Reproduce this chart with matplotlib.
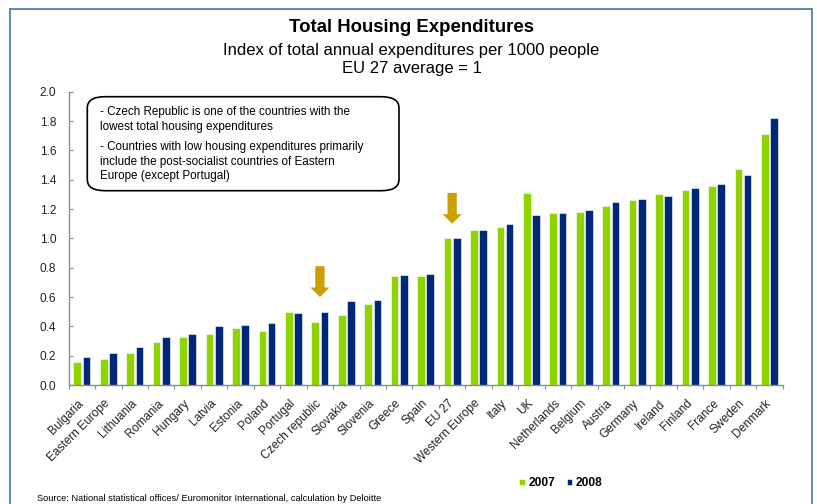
"""Total housing expenditures index, 2007 vs 2008, EU 27 average = 1."""
import matplotlib
matplotlib.use("Agg")
import matplotlib.pyplot as plt
import numpy as np
from matplotlib.patches import FancyBboxPatch, FancyArrow
from matplotlib.lines import Line2D
from matplotlib.ticker import MultipleLocator, FixedLocator

plt.rcParams["font.family"] = ["Liberation Sans", "DejaVu Sans"]

GREEN = "#8FD400"
NAVY = "#00287A"
GOLD = "#C9A000"
AXIS = "#8C8C8C"
FRAME = "#4F7DBA"

countries = ["Bulgaria", "Eastern Europe", "Lithuania", "Romania", "Hungary",
             "Latvia", "Estonia", "Poland", "Portugal", "Czech republic",
             "Slovakia", "Slovenia", "Greece", "Spain", "EU 27",
             "Western Europe", "Italy", "UK", "Netherlands", "Belgium",
             "Austria", "Germany", "Ireland", "Finland", "France", "Sweden",
             "Denmark"]
v2007 = [0.16, 0.18, 0.22, 0.29, 0.33, 0.35, 0.39, 0.37, 0.50, 0.43,
         0.48, 0.55, 0.74, 0.74, 1.00, 1.06, 1.08, 1.31, 1.17, 1.18,
         1.22, 1.26, 1.30, 1.33, 1.36, 1.47, 1.71]
v2008 = [0.19, 0.22, 0.26, 0.33, 0.35, 0.40, 0.41, 0.42, 0.49, 0.50,
         0.57, 0.58, 0.75, 0.76, 1.00, 1.06, 1.10, 1.16, 1.17, 1.19,
         1.25, 1.27, 1.29, 1.34, 1.37, 1.43, 1.82]
highlight = ["Czech republic", "EU 27"]

note_lines = [
    "- Czech Republic is one of the countries with the\nlowest total housing expenditures",
    "- Countries with low housing expenditures primarily\ninclude the post-socialist countries of Eastern\nEurope (except Portugal)",
]

W, H = 817, 504
fig = plt.figure(figsize=(W / 100, H / 100), dpi=100)
ax = fig.add_axes([68.7 / W, 1 - 385 / H, (782.7 - 68.7) / W, (385 - 91.7) / H])

x = np.arange(len(countries))
bw = 0.29
ax.bar(x - 0.175, v2007, bw, color=GREEN, edgecolor="white", linewidth=0.4,
       label="2007", zorder=2)
ax.bar(x + 0.175, v2008, bw, color=NAVY, edgecolor="white", linewidth=0.4,
       label="2008", zorder=2)

ax.set_xlim(-0.5, len(countries) - 0.5)
ax.set_ylim(0, 2.0)
ax.yaxis.set_major_locator(MultipleLocator(0.2))
ax.yaxis.set_major_formatter(lambda v, _: f"{v:.1f}")

for s in ("top", "right"):
    ax.spines[s].set_visible(False)
for s in ("left", "bottom"):
    ax.spines[s].set_color(AXIS)
    ax.spines[s].set_linewidth(1.0)

ax.tick_params(axis="y", direction="in", length=3, color=AXIS,
               labelsize=8.6, pad=9, labelcolor="#222222")
ax.set_xticks(x)
ax.set_xticklabels(countries, rotation=45, ha="right", va="center",
                   rotation_mode="anchor", fontsize=8.6, color="#222222")
ax.tick_params(axis="x", which="major", length=0, pad=12)
ax.xaxis.set_minor_locator(FixedLocator(np.arange(-0.5, len(countries), 1.0)))
ax.tick_params(axis="x", which="minor", direction="out", length=3,
               color=AXIS, width=0.8)

# gold markers above the highlighted countries
for name in highlight:
    i = countries.index(name)
    top = max(v2007[i], v2008[i])
    ax.add_patch(FancyArrow(i, top + 0.31, 0, -0.21, width=0.35,
                            head_width=0.72, head_length=0.065,
                            length_includes_head=True, color=GOLD,
                            linewidth=0, zorder=3))

# note box
bx0, bx1 = 87.3, 399.0
by0, by1 = 96.7, 190.7
box = FancyBboxPatch((bx0 / W, 1 - by1 / H), (bx1 - bx0) / W, (by1 - by0) / H,
                     boxstyle="round,pad=0,rounding_size=0.022",
                     transform=fig.transFigure, facecolor="white",
                     edgecolor="black", linewidth=1.2, zorder=5)
fig.add_artist(box)
fig.text(100 / W, 1 - 106 / H, note_lines[0], fontsize=8.4, va="top",
         ha="left", linespacing=1.3, zorder=6)
fig.text(100 / W, 1 - 141 / H, note_lines[1], fontsize=8.4, va="top",
         ha="left", linespacing=1.3, zorder=6)

# titles
fig.text(411.5 / W, 1 - 28 / H, "Total Housing Expenditures", fontsize=13.4,
         fontweight="bold", ha="center", va="center")
fig.text(411.5 / W, 1 - 50 / H,
         "Index of total annual expenditures per 1000 people",
         fontsize=12, ha="center", va="center")
fig.text(411.5 / W, 1 - 68 / H, "EU 27 average = 1", fontsize=12,
         ha="center", va="center")

leg = fig.legend(loc="center", bbox_to_anchor=(561 / W, 1 - 483 / H),
                 ncol=2, frameon=False, handlelength=0.45, handleheight=0.45,
                 handletextpad=0.3, columnspacing=1.0,
                 prop={"weight": "bold", "size": 8.6})

fig.text(37 / W, 1 - 498.5 / H,
         "Source: National statistical offices/ Euromonitor International, "
         "calculation by Deloitte", fontsize=6.7, ha="left", va="center")

# outer frame (top, left, right)
for xs, ys in [((10 / W, 811.7 / W), (1 - 9 / H, 1 - 9 / H)),
               ((10 / W, 10 / W), (0, 1 - 9 / H)),
               ((811.7 / W, 811.7 / W), (0, 1 - 9 / H))]:
    fig.add_artist(Line2D(xs, ys, color=FRAME, linewidth=1.3))

fig.savefig("out.png", dpi=100, facecolor="white")
